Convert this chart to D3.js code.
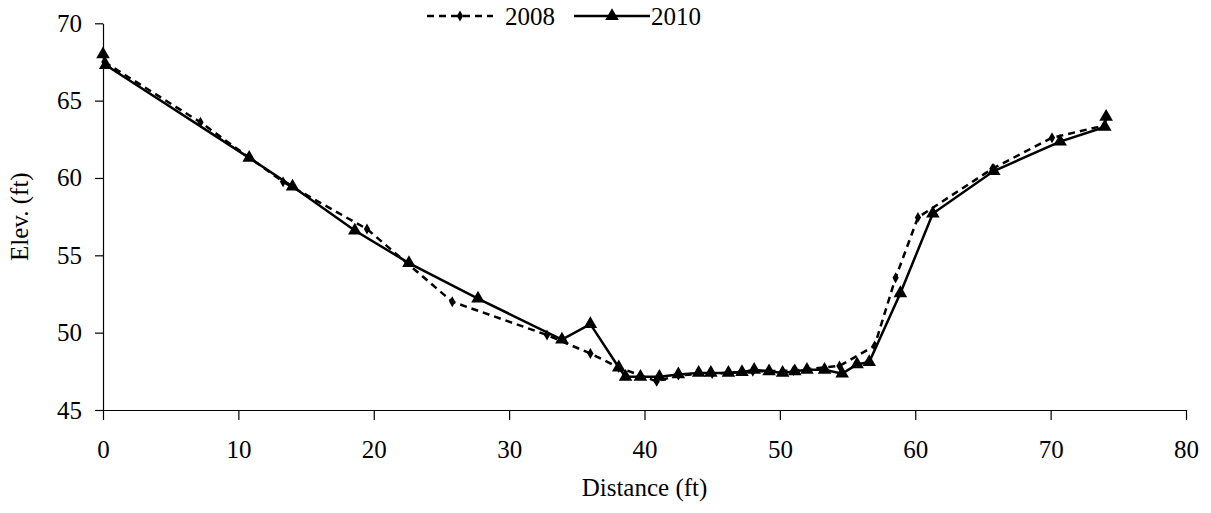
<!DOCTYPE html>
<html>
<head>
<meta charset="utf-8">
<script src="https://cdn.jsdelivr.net/npm/d3@7"></script>
<style>
  body { margin: 0; background: #fff; }
  svg text { font-family: "Liberation Serif", "Times New Roman", serif; fill: #000; }
</style>
</head>
<body>
<svg id="canvas" width="1211" height="513"></svg>
<script>
// series data
let dist2008 = [0.1, 7.2, 13.3, 19.5, 25.8, 32.8, 36.0, 38.1, 40.9, 42.5, 45.0, 48.0, 51.0, 54.4, 57.0, 58.55, 60.2, 65.7, 70.1, 74.0];
let elev2008 = [67.5, 63.6, 59.75, 56.7, 52.0, 49.85, 48.65, 47.75, 46.85, 47.25, 47.35, 47.5, 47.55, 47.85, 49.15, 53.55, 57.45, 60.6, 62.6, 63.4];

let dist2010 = [0, 0.2, 10.8, 14.0, 18.6, 22.6, 27.7, 33.9, 36.0, 38.1, 38.6, 39.7, 41.1, 42.5, 44.0, 44.9, 46.2, 47.2, 48.1, 49.2, 50.2, 51.1, 52.0, 53.3, 54.6, 55.7, 56.6, 58.9, 61.3, 65.8, 70.7, 74.0, 74.1];
let elev2010 = [68.0, 67.3, 61.3, 59.45, 56.6, 54.5, 52.2, 49.55, 50.55, 47.75, 47.15, 47.15, 47.15, 47.3, 47.4, 47.4, 47.4, 47.45, 47.6, 47.5, 47.4, 47.5, 47.6, 47.6, 47.35, 47.95, 48.1, 52.55, 57.7, 60.45, 62.35, 63.3, 63.95];

let xTicks = [0, 10, 20, 30, 40, 50, 60, 70, 80];
let yTicks = [45, 50, 55, 60, 65, 70];
let seriesNames = ['2008', '2010'];

let canvas = d3.select('#canvas');
let serif = '"Liberation Serif", "Times New Roman", serif';

let margin = { left: 103, top: 23.3, right: 25, bottom: 103 };
let plotW = 1211 - margin.left - margin.right;
let plotH = 513 - margin.top - margin.bottom;

let xScale = d3.scaleLinear().domain([0, 80]).range([margin.left, margin.left + plotW]);
let yScale = d3.scaleLinear().domain([45, 70]).range([margin.top + plotH, margin.top]);

let drawAxes = () => {
    let xAxis = d3.axisBottom(xScale).tickValues(xTicks).tickSize(10).tickSizeOuter(0).tickPadding(20);
    let yAxis = d3.axisLeft(yScale).tickValues(yTicks).tickSize(8).tickSizeOuter(0).tickPadding(13);

    let gx = canvas.append('g')
        .attr('transform', 'translate(0,' + (margin.top + plotH) + ')')
        .call(xAxis);
    let gy = canvas.append('g')
        .attr('transform', 'translate(' + margin.left + ',0)')
        .call(yAxis);

    [gx, gy].forEach((g) => {
        g.attr('font-family', serif).attr('font-size', 25);
        g.selectAll('path, line').attr('stroke', '#000').attr('stroke-width', 1.2);
        g.selectAll('text').attr('font-family', serif).attr('font-size', 25);
    });

    canvas.append('text')
        .attr('x', margin.left + plotW / 2)
        .attr('y', 496)
        .attr('text-anchor', 'middle')
        .attr('font-size', 25)
        .text('Distance (ft)');

    canvas.append('text')
        .attr('transform', 'translate(28,' + (margin.top + plotH / 2) + ') rotate(-90)')
        .attr('text-anchor', 'middle')
        .attr('font-size', 25)
        .text('Elev. (ft)');
};

let triangle = d3.symbol().type(d3.symbolTriangle).size(80);
let diamond = d3.symbol().type(d3.symbolDiamond).size(34);

let drawSeries = () => {
    let line = d3.line()
        .x((d) => xScale(d[0]))
        .y((d) => yScale(d[1]));

    let pts2008 = dist2008.map((d, i) => [d, elev2008[i]]);
    let pts2010 = dist2010.map((d, i) => [d, elev2010[i]]);

    canvas.append('path')
        .datum(pts2008)
        .attr('d', line)
        .attr('fill', 'none')
        .attr('stroke', '#000')
        .attr('stroke-width', 2.5)
        .attr('stroke-dasharray', '7,5');

    canvas.append('g').selectAll('path')
        .data(pts2008)
        .enter()
        .append('path')
        .attr('d', diamond)
        .attr('transform', (d) => 'translate(' + xScale(d[0]) + ',' + yScale(d[1]) + ')')
        .attr('fill', '#000');

    canvas.append('path')
        .datum(pts2010)
        .attr('d', line)
        .attr('fill', 'none')
        .attr('stroke', '#000')
        .attr('stroke-width', 2.5);

    canvas.append('g').selectAll('path')
        .data(pts2010)
        .enter()
        .append('path')
        .attr('d', triangle)
        .attr('transform', (d) => 'translate(' + xScale(d[0]) + ',' + yScale(d[1]) + ')')
        .attr('fill', '#000');
};

let drawLegend = () => {
    let legendY = 16;
    let items = [
        { name: seriesNames[0], x0: 427, x1: 493, dash: '7,5', symbol: diamond, textX: 505 },
        { name: seriesNames[1], x0: 574, x1: 650, dash: null, symbol: triangle, textX: 651 }
    ];
    let g = canvas.append('g');
    items.forEach((it) => {
        g.append('line')
            .attr('x1', it.x0).attr('x2', it.x1)
            .attr('y1', legendY).attr('y2', legendY)
            .attr('stroke', '#000')
            .attr('stroke-width', 2.5)
            .attr('stroke-dasharray', it.dash);
        g.append('path')
            .attr('d', it.symbol)
            .attr('transform', 'translate(' + ((it.x0 + it.x1) / 2) + ',' + legendY + ')')
            .attr('fill', '#000');
        g.append('text')
            .attr('x', it.textX)
            .attr('y', legendY + 9)
            .attr('font-size', 25)
            .text(it.name);
    });
};

drawAxes();
drawSeries();
drawLegend();
</script>
</body>
</html>
